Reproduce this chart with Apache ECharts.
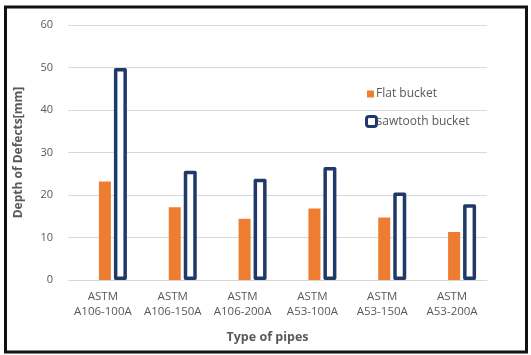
<!DOCTYPE html>
<html>
<head>
<meta charset="utf-8">
<script src="https://cdn.jsdelivr.net/npm/echarts@6/dist/echarts.min.js"></script>
<style>
  html, body { margin: 0; padding: 0; background: #fff; }
  #chart { width: 531px; height: 355px; }
</style>
</head>
<body>
<div id="chart"></div>
<script>
// Pipe types on the category axis
const pipeTypes = ['ASTM\nA106-100A', 'ASTM\nA106-150A', 'ASTM\nA106-200A', 'ASTM\nA53-100A', 'ASTM\nA53-150A', 'ASTM\nA53-200A'];
// Depth of defects [mm] per bucket type
const flatBucket = [23.2, 17.1, 14.4, 16.8, 14.7, 11.3];
const sawtoothBucket = [49.9, 25.7, 23.8, 26.6, 20.6, 17.8];
// Value axis ticks
const yMin = 0, yMax = 60, yStep = 10;

const FONT = '"Open Sans", "Noto Sans", sans-serif';
const TEXT = '#595959';
const ORANGE = '#ED7D31';
const NAVY = '#1F3A68';

const chart = echarts.init(document.getElementById('chart'), null, { renderer: 'canvas' });

chart.setOption({
  backgroundColor: '#fff',
  animation: false,
  textStyle: { fontFamily: FONT },
  graphic: [{
    type: 'rect',
    shape: { x: 5.5, y: 7, width: 521, height: 345 },
    style: { fill: 'none', stroke: '#111', lineWidth: 3 },
    z: 100
  }],
  grid: { left: 68, right: 44, top: 25, bottom: 75 },
  legend: [{
    data: ['Flat bucket'],
    orient: 'vertical',
    left: 362, top: 83,
    itemWidth: 7, itemHeight: 7, itemGap: 0,
    icon: 'rect',
    textStyle: { color: TEXT, fontSize: 12, fontFamily: FONT, padding: [0, 0, 0, -3] }
  }, {
    data: [{ name: 'sawtooth bucket', itemStyle: { borderWidth: 3, borderColor: NAVY, color: '#fff' } }],
    orient: 'vertical',
    left: 360, top: 110,
    itemWidth: 10, itemHeight: 10, itemGap: 0,
    icon: 'roundRect',
    textStyle: { color: TEXT, fontSize: 12, fontFamily: FONT, padding: [0, 0, 0, -5] }
  }],
  xAxis: {
    type: 'category',
    data: pipeTypes,
    name: 'Type of pipes',
    nameLocation: 'middle',
    nameGap: 51,
    nameTextStyle: { color: TEXT, fontSize: 12.5, fontWeight: 'bold', fontFamily: FONT, padding: [0, 20, 0, 0] },
    axisLine: { lineStyle: { color: '#D9D9D9', width: 1 } },
    axisTick: { show: false },
    axisLabel: { color: TEXT, fontSize: 11.5, lineHeight: 15, margin: 9, fontFamily: FONT, interval: 0 }
  },
  yAxis: {
    type: 'value',
    min: yMin, max: yMax, interval: yStep,
    name: 'Depth of Defects[mm]',
    nameLocation: 'middle',
    nameGap: 43,
    nameTextStyle: { color: TEXT, fontSize: 12, fontWeight: 'bold', fontFamily: FONT },
    axisLine: { show: false },
    axisTick: { show: false },
    axisLabel: { color: TEXT, fontSize: 11, margin: 15, fontFamily: FONT },
    splitLine: { lineStyle: { color: '#D9D9D9', width: 1 } }
  },
  series: [{
    // empty leading slot: keeps the bar pair placed right of each category label
    name: 'spacer',
    type: 'bar',
    data: pipeTypes.map(() => null),
    barWidth: 16,
    barGap: '25%',
    silent: true
  }, {
    name: 'Flat bucket',
    type: 'bar',
    data: flatBucket,
    barWidth: 12,
    barGap: '25%',
    itemStyle: { color: ORANGE }
  }, {
    name: 'sawtooth bucket',
    type: 'bar',
    data: sawtoothBucket,
    barWidth: 13,
    barGap: '25%',
    itemStyle: { color: '#fff', borderColor: NAVY, borderWidth: 3.5, borderJoin: 'round' }
  }]
});
</script>
</body>
</html>
